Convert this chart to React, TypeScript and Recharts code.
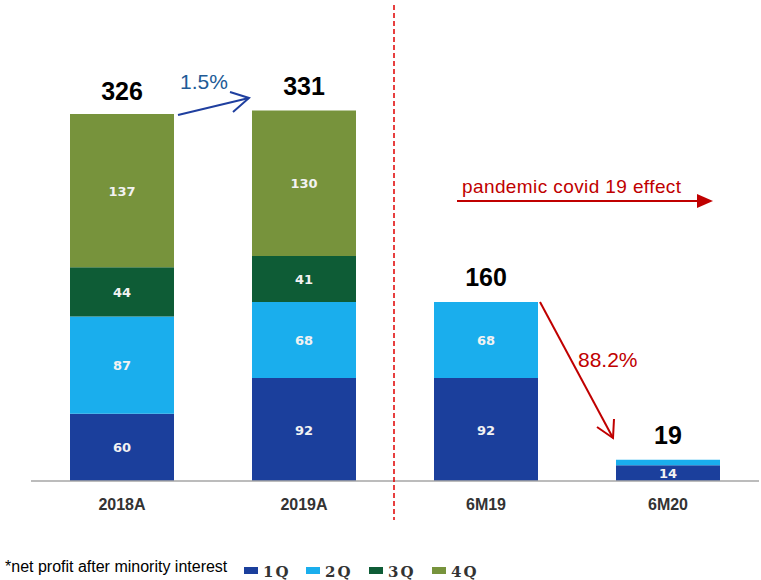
import { ComposedChart, Bar, Line, XAxis, YAxis, LabelList } from "recharts";

const categories = ["2018A", "2019A", "6M19", "6M20"];
const q1 = [60, 92, 92, 14];
const q2 = [87, 68, 68, 5];
const q3 = [44, 41, null, null];
const q4 = [137, 130, null, null];
const totals = [326, 331, 160, 19];

const seriesKeys = ["q1", "q2", "q3", "q4"];
const seriesNames = ["1Q", "2Q", "3Q", "4Q"];
const seriesColors = ["#1b3f9c", "#1aaeed", "#0e5c36", "#77933c"];

const data = categories.map((name, i) => ({
  name,
  q1: q1[i],
  q2: q2[i],
  q3: q3[i],
  q4: q4[i],
  total: totals[i],
}));

const W = 761;
const H = 580;

const XTick = (props: any) => {
  const { x, y, payload } = props;
  return (
    <text
      x={x}
      y={y + 21}
      textAnchor="middle"
      fontFamily="Liberation Sans, Arial, sans-serif"
      fontWeight="bold"
      fontSize={16}
      fill="#333"
    >
      {payload.value}
    </text>
  );
};

const InBarLabel = (props: any) => {
  const { x, y, width, height, value } = props;
  if (value == null || value < 10) return null;
  return (
    <text
      x={x + width / 2}
      y={y + height / 2 + 5}
      textAnchor="middle"
      fontFamily="DejaVu Sans, sans-serif"
      fontWeight="bold"
      fontSize={13}
      fill="#f2f2f2"
    >
      {value}
    </text>
  );
};

const TotalLabel = (props: any) => {
  const { x, y, value } = props;
  return (
    <text
      x={x}
      y={y - 16}
      textAnchor="middle"
      fontFamily="Liberation Sans, Arial, sans-serif"
      fontWeight="bold"
      fontSize={25}
      fill="#000"
    >
      {value}
    </text>
  );
};

export default function App() {
  return (
    <div
      style={{
        position: "fixed",
        left: 0,
        top: 0,
        width: W,
        height: H,
        background: "#fff",
      }}
    >
      <ComposedChart
        width={W}
        height={H}
        data={data}
        margin={{ top: 11, right: 2, left: 31, bottom: 69 }}
      >
        <XAxis
          dataKey="name"
          height={30}
          tickLine={false}
          axisLine={{ stroke: "#a6a6a6", strokeWidth: 1.5 }}
          tick={<XTick />}
          interval={0}
        />
        <YAxis hide domain={[0, 420]} />
        {seriesKeys.map((k, i) => (
          <Bar
            key={k}
            dataKey={k}
            name={seriesNames[i]}
            stackId="a"
            fill={seriesColors[i]}
            barSize={104}
            isAnimationActive={false}
          >
            <LabelList dataKey={k} content={<InBarLabel />} />
          </Bar>
        ))}
        <Line
          dataKey="total"
          stroke="none"
          dot={false}
          activeDot={false}
          isAnimationActive={false}
        >
          <LabelList dataKey="total" content={<TotalLabel />} />
        </Line>
      </ComposedChart>

      {/* annotations + legend */}
      <svg
        width={W}
        height={H}
        style={{ position: "absolute", left: 0, top: 0, pointerEvents: "none" }}
      >
        {/* divider */}
        <line
          x1={394}
          y1={5}
          x2={394}
          y2={520}
          stroke="#e00000"
          strokeWidth={1.5}
          strokeDasharray="5 3"
        />

        {/* 1.5% growth arrow */}
        <g stroke="#1f3f9f" strokeWidth={2} fill="none">
          <line x1={178} y1={115} x2={249} y2={98} />
          <polyline points="230,92 249,98 233,112" />
        </g>
        <text
          x={180}
          y={89}
          fontFamily="Liberation Sans, Arial, sans-serif"
          fontSize={21}
          fill="#215a96"
        >
          1.5%
        </text>

        {/* pandemic arrow */}
        <text
          x={462}
          y={193}
          fontFamily="Liberation Sans, Arial, sans-serif"
          fontSize={19}
          letterSpacing={0.4}
          fill="#c00000"
        >
          pandemic covid 19 effect
        </text>
        <line x1={457} y1={201} x2={700} y2={201} stroke="#c00000" strokeWidth={2} />
        <polygon points="697,194 713,201 697,208" fill="#c00000" />

        {/* 88.2% decline arrow */}
        <g stroke="#c00000" strokeWidth={2} fill="none">
          <line x1={540} y1={302} x2={613} y2={438} />
          <polyline points="597,427 613,438 614,419" />
        </g>
        <text
          x={578}
          y={367}
          fontFamily="Liberation Sans, Arial, sans-serif"
          fontSize={21}
          fill="#c00000"
        >
          88.2%
        </text>

        {/* legend */}
        <text
          x={5}
          y={572}
          fontFamily="Liberation Sans, Arial, sans-serif"
          fontSize={16}
          fill="#000"
        >
          *net profit after minority interest
        </text>
        {seriesNames.map((n, i) => {
          const lx = [244, 306, 369, 432][i];
          return (
            <g key={n}>
              <rect x={lx} y={567} width={14} height={7} fill={seriesColors[i]} />
              <text
                x={lx + 19}
                y={577}
                fontFamily="DejaVu Serif, serif"
                fontWeight="bold"
                fontSize={15}
                letterSpacing={2}
                fill="#333"
              >
                {n}
              </text>
            </g>
          );
        })}
      </svg>
    </div>
  );
}
